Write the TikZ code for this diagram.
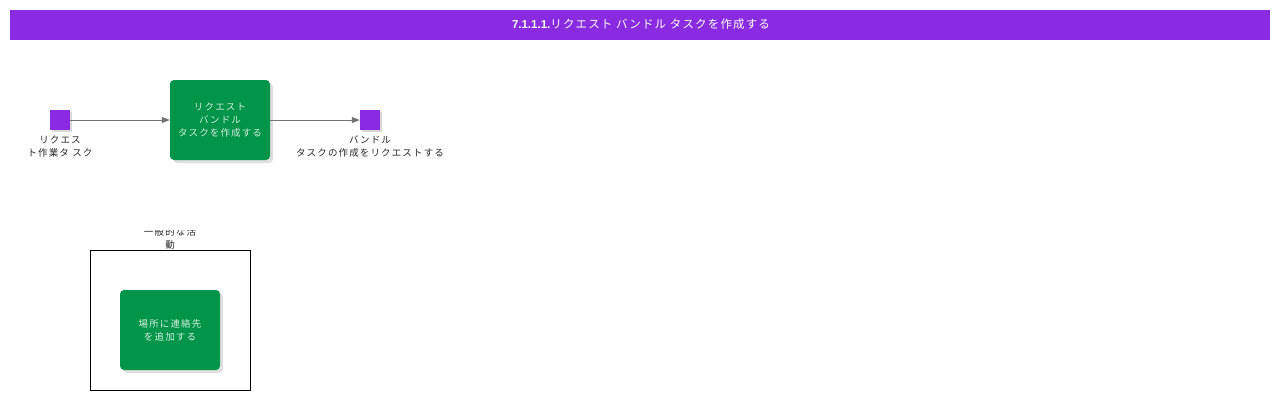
\documentclass[tikz,border=0pt]{standalone}
\usepackage{fontspec}
\setmainfont{Liberation Sans}
\newfontfamily\cjk{Noto Sans CJK JP}
\newfontfamily\cjktitle[LetterSpace=10]{Noto Sans CJK JP}
\newfontfamily\cjkwide[LetterSpace=12]{Noto Sans CJK JP}
\usetikzlibrary{arrows.meta,shadows}
\definecolor{vio}{HTML}{8A2BE2}
\definecolor{grn}{HTML}{009548}
\definecolor{grntxt}{HTML}{D6EEDC}
\tikzset{
  evt/.style={fill=vio,draw=none,minimum width=20pt,minimum height=20pt,inner sep=0pt,drop shadow={shadow xshift=2pt,shadow yshift=-2pt,fill=black!30}},
  taskbox/.style={fill=grn,draw=none,rounded corners=4pt,minimum width=100pt,minimum height=80pt,inner sep=0pt,align=center,text=grntxt,font=\cjkwide\fontsize{9.5}{13}\selectfont,drop shadow={shadow xshift=3pt,shadow yshift=-3pt,fill=black!25}},
  lbl/.style={align=center,font=\cjkwide\fontsize{9.5}{13}\selectfont,text=black!85,inner sep=0pt},
  flow/.style={draw=black!55,line width=0.8pt,-{Triangle[length=8pt,width=6pt]}}
}
\begin{document}
\begin{tikzpicture}[x=1pt,y=-1pt]
\useasboundingbox (0,0) rectangle (1280,400);
\fill[vio] (10,10) rectangle (1270,40);
\node[text=white,inner sep=0pt,font=\fontsize{11.5}{13}\selectfont] (title) at (641,24) {\textbf{7.1.1.1.}{\cjktitle リクエスト バンドル タスクを作成する}};
\node[evt] (start) at (60,120) {};
\node[lbl,anchor=north] (startlbl) at (60,136) {リクエス\\ト作業タ スク};
\node[taskbox] (task) at (220,120) {リクエスト\\バンドル\\タスクを作成する};
\node[evt] (end) at (370,120) {};
\node[lbl,anchor=north] (endlbl) at (370,136) {バンドル\\タスクの作成をリクエストする};
\draw[flow] (start.east) -- (task.west);
\draw[flow] (task.east) -- (end.west);
\node[draw=black,line width=0.6pt,minimum width=160pt,minimum height=140pt,inner sep=0pt] (grp) at (170,320) {};
\begin{scope}
\clip (0,230) rectangle (1280,250);
\node[lbl,anchor=south] (grplbl) at (170,250) {一般的な活\\動};
\end{scope}
\node[taskbox] (task2) at (170,330) {場所に連絡先\\を追加する};
\end{tikzpicture}
\end{document}
